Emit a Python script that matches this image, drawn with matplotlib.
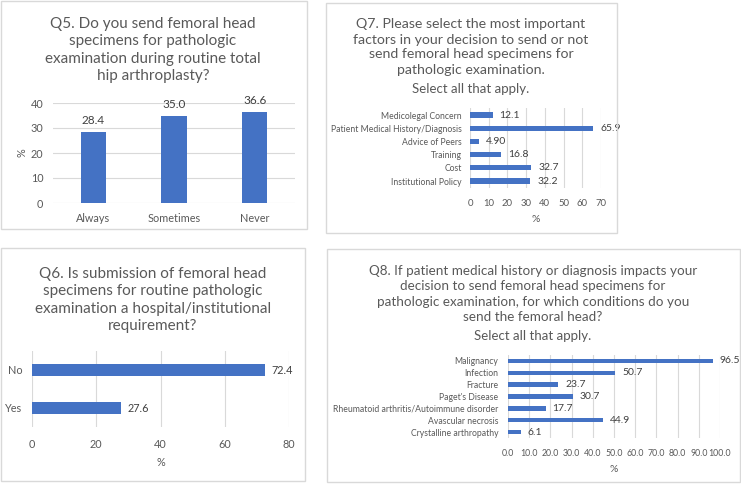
import matplotlib
matplotlib.use('Agg')
import matplotlib.pyplot as plt
from matplotlib.patches import Rectangle

plt.rcParams['font.family'] = ['Lato', 'DejaVu Sans']

W, H = 741, 484

# Q5
q5_cats = ['Always', 'Sometimes', 'Never']
q5_vals = [28.4, 35.0, 36.6]
q5_ticks = [0, 10, 20, 30, 40]

# Q7
q7_cats = ['Medicolegal Concern', 'Patient Medical History/Diagnosis', 'Advice of Peers',
           'Training', 'Cost', 'Institutional Policy']
q7_vals = [12.1, 65.9, 4.90, 16.8, 32.7, 32.2]
q7_labels = ['12.1', '65.9', '4.90', '16.8', '32.7', '32.2']
q7_ticks = [0, 10, 20, 30, 40, 50, 60, 70]

# Q6
q6_cats = ['No', 'Yes']
q6_vals = [72.4, 27.6]
q6_labels = ['72.4', '27.6']
q6_ticks = [0, 20, 40, 60, 80]

# Q8
q8_cats = ['Malignancy', 'Infection', 'Fracture', "Paget's Disease",
           'Rheumatoid arthritis/Autoimmune disorder', 'Avascular necrosis',
           'Crystalline arthropathy']
q8_vals = [96.5, 50.7, 23.7, 30.7, 17.7, 44.9, 6.1]
q8_labels = ['96.5', '50.7', '23.7', '30.7', '17.7', '44.9', '6.1']
q8_ticks = [0, 10, 20, 30, 40, 50, 60, 70, 80, 90, 100]

BLUE = '#4472C4'
GRID = '#d9d9d9'
TXT = '#595959'
VAL = '#404040'


def px(x0, y0, x1, y1):
    return [x0 / W, 1 - y1 / H, (x1 - x0) / W, (y1 - y0) / H]


def frame(fig, x0, y0, x1, y1):
    fig.patches.append(Rectangle((x0 / W, 1 - y1 / H), (x1 - x0) / W, (y1 - y0) / H,
                                 transform=fig.transFigure, fill=False,
                                 edgecolor=GRID, linewidth=1.0))


def clean(ax):
    for s in ax.spines.values():
        s.set_visible(False)
    ax.tick_params(length=0, colors=TXT)


def hbars(ax, cats, vals, labels, ticks, height, fs_cat, fs_tick, fs_val, fmt='{:g}'):
    y = list(range(len(cats)))
    ax.barh(y, vals, height=height, color=BLUE, zorder=3)
    ax.set_yticks(y)
    ax.set_yticklabels(cats, fontsize=fs_cat)
    ax.set_ylim(len(cats) - 0.5, -0.5)
    ax.set_xlim(ticks[0], ticks[-1])
    ax.set_xticks(ticks)
    ax.set_xticklabels([fmt.format(t) for t in ticks], fontsize=fs_tick)
    ax.grid(axis='x', color=GRID, linewidth=0.8, zorder=0)
    clean(ax)
    for yi, v, lab in zip(y, vals, labels):
        ax.annotate(lab, (v, yi), xytext=(5, 0), textcoords='offset points',
                    va='center', ha='left', fontsize=fs_val, color=VAL)


fig = plt.figure(figsize=(W / 100, H / 100), dpi=100)

# panel frames
frame(fig, 1, 1, 307, 229)
frame(fig, 326, 3, 617, 233)
frame(fig, 1, 248, 305, 481)
frame(fig, 327, 249, 740, 482)

# ---- Q5 ----
ax1 = fig.add_axes(px(53, 103, 295, 203))
ax1.bar(q5_cats, q5_vals, width=0.31, color=BLUE, zorder=3)
ax1.set_ylim(0, 40)
ax1.set_xlim(-0.5, 2.5)
ax1.set_yticks(q5_ticks)
ax1.grid(axis='y', color=GRID, linewidth=0.8, zorder=0)
clean(ax1)
ax1.tick_params(axis='both', labelsize=7.8, pad=7)
ax1.set_ylabel('%', fontsize=7.8, color=TXT, labelpad=2)
for i, v in enumerate(q5_vals):
    ax1.annotate('{:.1f}'.format(v), (i, v), xytext=(0, 4), textcoords='offset points',
                 ha='center', va='bottom', fontsize=8.5, color=VAL)
fig.text(153 / W, 1 - 50 / H,
         'Q5. Do you send femoral head\nspecimens for pathologic\nexamination during routine total\nhip arthroplasty?',
         ha='center', va='center', fontsize=11, color=TXT, linespacing=1.3)

# ---- Q7 ----
ax2 = fig.add_axes(px(470, 108.4, 601, 187.6))
hbars(ax2, q7_cats, q7_vals, q7_labels, q7_ticks, 0.38, 6.2, 6.8, 7.5)
ax2.tick_params(axis='x', pad=8)
ax2.tick_params(axis='y', pad=6)
ax2.set_xlabel('%', fontsize=7.5, color=TXT, labelpad=5)
fig.text(471 / W, 1 - 47 / H,
         'Q7. Please select the most important\nfactors in your decision to send or not\nsend femoral head specimens for\npathologic examination.',
         ha='center', va='center', fontsize=10.2, color=TXT, linespacing=1.3)
fig.text(471 / W, 1 - 89 / H, 'Select all that apply.', ha='center', va='center',
         fontsize=9.5, color=TXT)

# ---- Q6 ----
ax3 = fig.add_axes(px(32, 351, 289, 427))
hbars(ax3, q6_cats, q6_vals, q6_labels, q6_ticks, 0.34, 7.8, 7.8, 7.8)
ax3.tick_params(axis='x', pad=9)
ax3.tick_params(axis='y', pad=7)
ax3.set_xlabel('%', fontsize=7.8, color=TXT, labelpad=5)
fig.text(153 / W, 1 - 300 / H,
         'Q6. Is submission of femoral head\nspecimens for routine pathologic\nexamination a hospital/institutional\nrequirement?',
         ha='center', va='center', fontsize=11, color=TXT, linespacing=1.3)

# ---- Q8 ----
ax4 = fig.add_axes(px(508, 355, 720, 438))
hbars(ax4, q8_cats, q8_vals, q8_labels, q8_ticks, 0.38, 6.2, 6.3, 7.5, fmt='{:.1f}')
ax4.tick_params(axis='x', pad=8)
ax4.tick_params(axis='y', pad=7)
ax4.set_xlabel('%', fontsize=7.5, color=TXT, labelpad=5)
fig.text(533 / W, 1 - 294 / H,
         'Q8. If patient medical history or diagnosis impacts your\ndecision to send femoral head specimens for\npathologic examination, for which conditions do you\nsend the femoral head?',
         ha='center', va='center', fontsize=9.7, color=TXT, linespacing=1.35)
fig.text(533 / W, 1 - 336 / H, 'Select all that apply.', ha='center', va='center',
         fontsize=9.5, color=TXT)

fig.savefig('out.png', dpi=100, facecolor='white')
